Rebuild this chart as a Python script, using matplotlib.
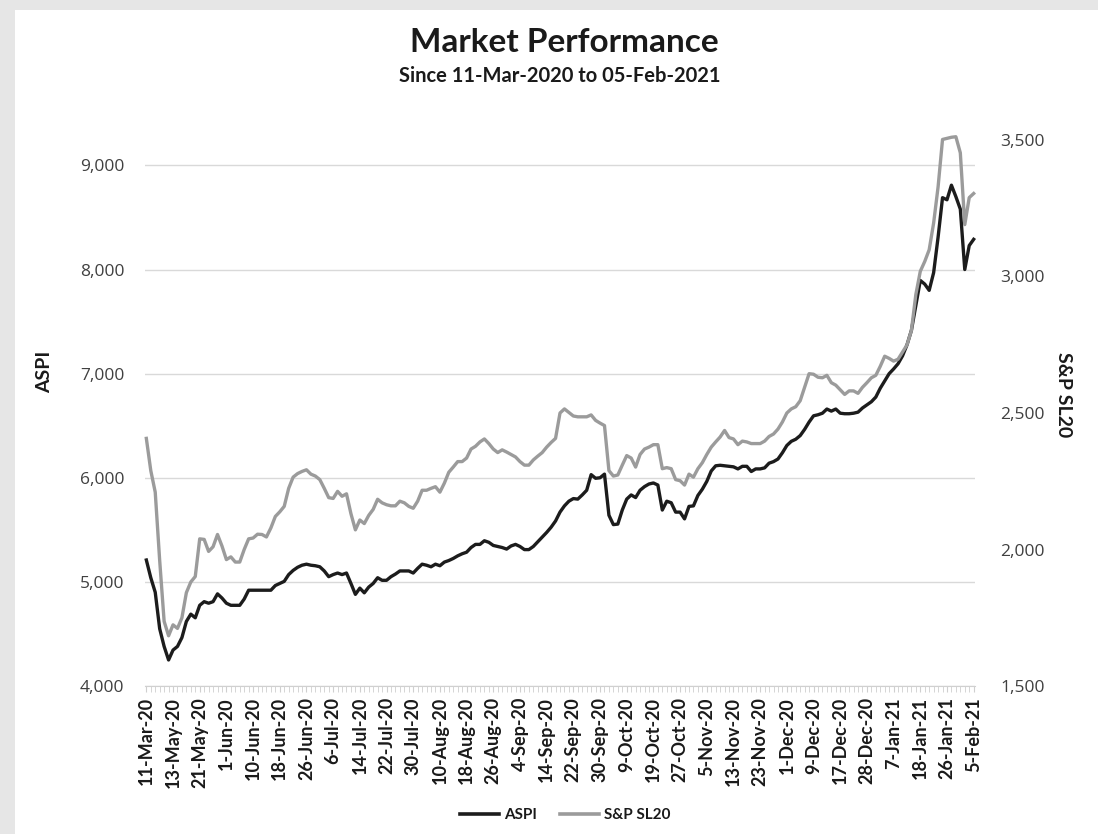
import matplotlib
matplotlib.use('Agg')
import matplotlib.pyplot as plt
import numpy as np
from matplotlib.patches import Rectangle
from matplotlib.lines import Line2D
from matplotlib.ticker import FuncFormatter, FixedLocator

plt.rcParams['font.family'] = ['Lato', 'DejaVu Sans']

# ---------------- data ----------------
aspi = [
    5210, 5040, 4900, 4550, 4380, 4250, 4345, 4380, 4465, 4620,
    4690, 4655, 4775, 4810, 4795, 4810, 4885, 4845, 4795, 4775,
    4775, 4775, 4835, 4920, 4920, 4920, 4920, 4920, 4920, 4965,
    4985, 5005, 5070, 5110, 5140, 5160, 5170, 5160, 5155, 5145,
    5105, 5050, 5070, 5085, 5070, 5085, 4985, 4880, 4940, 4895,
    4950, 4985, 5040, 5015, 5015, 5050, 5075, 5105, 5105, 5105,
    5085, 5130, 5170, 5160, 5145, 5170, 5155, 5190, 5205, 5225,
    5250, 5270, 5285, 5330, 5360, 5360, 5395, 5380, 5350, 5340,
    5330, 5315, 5345, 5360, 5340, 5310, 5310, 5340, 5385, 5430,
    5475, 5525, 5585, 5670, 5730, 5775, 5800, 5795, 5835, 5880,
    6030, 5995, 6000, 6035, 5640, 5550, 5555, 5690, 5795, 5835,
    5810, 5880, 5915, 5940, 5950, 5930, 5690, 5775, 5760, 5670,
    5670, 5605, 5725, 5730, 5830, 5890, 5965, 6065, 6115, 6120,
    6115, 6110, 6105, 6085, 6110, 6110, 6060, 6085, 6085, 6095,
    6140, 6155, 6180, 6240, 6310, 6350, 6370, 6405, 6465, 6535,
    6595, 6605, 6620, 6660, 6640, 6660, 6620, 6615, 6615, 6620,
    6630, 6670, 6700, 6730, 6775, 6860, 6930, 7000, 7045, 7095,
    7170, 7275, 7415, 7655, 7895, 7860, 7800, 7970, 8310, 8690,
    8670, 8810, 8700, 8580, 8000, 8230, 8290,
]

spsl20 = [
    2407, 2289, 2210, 1960, 1737, 1684, 1724, 1711, 1750, 1842,
    1881, 1901, 2039, 2037, 1993, 2010, 2055, 2013, 1963, 1973,
    1954, 1954, 2000, 2039, 2042, 2056, 2055, 2046, 2079, 2121,
    2138, 2158, 2224, 2265, 2278, 2286, 2292, 2276, 2269, 2256,
    2224, 2190, 2187, 2213, 2195, 2204, 2131, 2072, 2108, 2095,
    2125, 2147, 2184, 2171, 2164, 2160, 2160, 2177, 2171, 2158,
    2151, 2177, 2217, 2217, 2224, 2230, 2210, 2243, 2283, 2302,
    2322, 2322, 2335, 2368, 2378, 2394, 2405, 2388, 2368, 2355,
    2365, 2357, 2348, 2339, 2322, 2309, 2309, 2328, 2342, 2355,
    2375, 2392, 2407, 2500, 2515, 2502, 2489, 2486, 2486, 2486,
    2493, 2473, 2463, 2454, 2289, 2269, 2273, 2309, 2344, 2335,
    2302, 2348, 2368, 2375, 2384, 2384, 2296, 2300, 2296, 2256,
    2252, 2236, 2276, 2265, 2296, 2318, 2348, 2375, 2394, 2412,
    2436, 2410, 2405, 2384, 2397, 2394, 2388, 2388, 2388, 2397,
    2414, 2423, 2441, 2467, 2500, 2515, 2523, 2545, 2594, 2644,
    2642, 2631, 2629, 2638, 2611, 2602, 2585, 2568, 2581, 2581,
    2572, 2594, 2611, 2629, 2638, 2671, 2708, 2700, 2690, 2697,
    2723, 2749, 2802, 2934, 3019, 3055, 3098, 3196, 3328, 3502,
    3506, 3510, 3512, 3453, 3190, 3289, 3304,
]

tick_labels = [
    '11-Mar-20', '13-May-20', '21-May-20', '1-Jun-20', '10-Jun-20',
    '18-Jun-20', '26-Jun-20', '6-Jul-20', '14-Jul-20', '22-Jul-20',
    '30-Jul-20', '10-Aug-20', '18-Aug-20', '26-Aug-20', '4-Sep-20',
    '14-Sep-20', '22-Sep-20', '30-Sep-20', '9-Oct-20', '19-Oct-20',
    '27-Oct-20', '5-Nov-20', '13-Nov-20', '23-Nov-20', '1-Dec-20',
    '9-Dec-20', '17-Dec-20', '28-Dec-20', '7-Jan-21', '18-Jan-21',
    '26-Jan-21', '5-Feb-21',
]
label_step = 6

# ---------------- figure ----------------
W, H = 1098, 834
fig = plt.figure(figsize=(W / 100, H / 100), dpi=100)
fig.patch.set_facecolor('#e6e6e6')
fig.patches.append(Rectangle((15 / W, 0), 1, 1 - 10 / H, transform=fig.transFigure,
                             facecolor='white', edgecolor='none', zorder=-10))

ax = fig.add_axes([145 / W, 1 - 686 / H, (975 - 145) / W, (686 - 140) / H])
ax2 = ax.twinx()
ax.patch.set_alpha(0)
ax2.patch.set_alpha(0)

x = np.arange(len(aspi))
ax.plot(x, aspi, color='#1c1c1c', lw=2.4, solid_joinstyle='round', clip_on=False, zorder=3)
ax2.plot(x, spsl20, color='#9b9b9b', lw=2.4, solid_joinstyle='round', clip_on=False, zorder=3)

ax.set_xlim(-0.3, len(aspi) - 0.7)
ax.set_ylim(4000, 9244)
ax2.set_ylim(1500, 3500)

fmt = FuncFormatter(lambda v, p: f'{int(v):,}')
ax.yaxis.set_major_locator(FixedLocator([4000, 5000, 6000, 7000, 8000, 9000]))
ax.yaxis.set_major_formatter(fmt)
ax2.yaxis.set_major_locator(FixedLocator([1500, 2000, 2500, 3000, 3500]))
ax2.yaxis.set_major_formatter(fmt)

ax.yaxis.grid(True, color='#d9d9d9', lw=1.0)
ax.set_axisbelow(True)

for a in (ax, ax2):
    for s in ('left', 'right', 'top', 'bottom'):
        a.spines[s].set_visible(False)
ax.spines['bottom'].set_visible(True)
ax.spines['bottom'].set_color('#d0d0d0')

ax.tick_params(axis='y', length=0, pad=15, labelsize=12.5, labelcolor='#404040')
ax2.tick_params(axis='y', length=0, pad=18, labelsize=12.5, labelcolor='#404040')
for t in ax.get_yticklabels() + ax2.get_yticklabels():
    t.set_family(['Open Sans', 'DejaVu Sans'])

pos = np.arange(0, len(aspi), label_step)
ax.set_xticks(pos)
ax.set_xticklabels(tick_labels, rotation=90, fontsize=13, fontweight='bold', color='#1a1a1a')
ax.set_xticks(x, minor=True)
ax.tick_params(axis='x', which='major', length=4, color='#cfcfcf', pad=4)
ax.tick_params(axis='x', which='minor', length=4, color='#cfcfcf')

fig.text(564 / W, 1 - 42 / H, 'Market Performance', ha='center', va='center',
         fontsize=24, fontweight='bold', color='#1a1a1a')
fig.text(560 / W, 1 - 76 / H, 'Since 11-Mar-2020 to 05-Feb-2021', ha='center', va='center',
         fontsize=14.5, fontweight='bold', color='#1a1a1a')

fig.text(45 / W, 1 - 372 / H, 'ASPI', rotation=90, ha='center', va='center',
         fontsize=14, fontweight='bold', color='#1a1a1a')
fig.text(1063 / W, 1 - 395 / H, 'S&P SL20', rotation=270, ha='center', va='center',
         fontsize=14, fontweight='bold', color='#1a1a1a')

handles = [Line2D([], [], color='#1c1c1c', lw=2.6), Line2D([], [], color='#9b9b9b', lw=2.6)]
leg = fig.legend(handles, ['ASPI', 'S&P SL20'], loc='center', bbox_to_anchor=(565 / W, 1 - 815 / H),
                 ncol=2, frameon=False, handlelength=2.6, columnspacing=1.5, handletextpad=0.3,
                 prop={'weight': 'bold', 'size': 11})
for t in leg.get_texts():
    t.set_color('#1a1a1a')

fig.savefig('out.png', dpi=100, facecolor=fig.get_facecolor())
